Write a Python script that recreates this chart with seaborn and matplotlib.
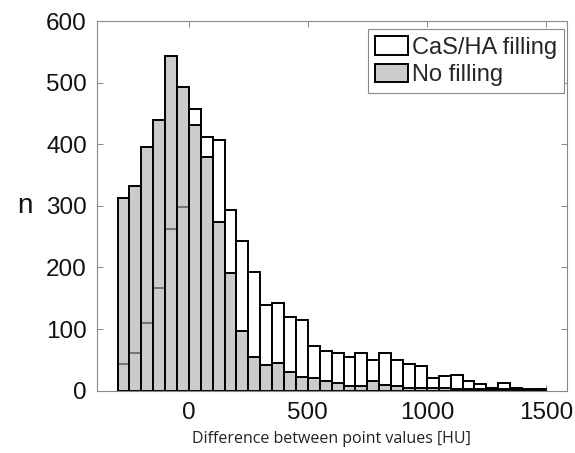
import numpy as np
import pandas as pd
import matplotlib
matplotlib.use("Agg")
import matplotlib.pyplot as plt
import seaborn as sns
from matplotlib.patches import Patch

# ---- data ----
bin_edges = list(range(-300, 1501, 50))
cas_ha_counts = [44, 61, 110, 167, 262, 298, 458, 412, 407, 294, 243, 192,
                 139, 142, 120, 115, 73, 65, 61, 54, 62, 50, 62, 50,
                 43, 40, 21, 24, 25, 15, 11, 4, 12, 5, 3, 2]
no_fill_counts = [312, 333, 396, 439, 544, 493, 432, 380, 274, 191, 97, 55,
                  42, 45, 30, 22, 20, 16, 12, 8, 8, 16, 9, 8,
                  5, 5, 4, 5, 3, 3, 2, 2, 2, 1, 1, 0]
series_labels = ["CaS/HA filling", "No filling"]
x_ticks = [0, 500, 1000, 1500]
y_ticks = [0, 100, 200, 300, 400, 500, 600]
x_label = "Difference between point values [HU]"
y_label = "n"

centers = [(a + b) / 2 for a, b in zip(bin_edges[:-1], bin_edges[1:])]
df = pd.DataFrame({"center": centers, "cas": cas_ha_counts, "nofill": no_fill_counts})

sns.set_style("ticks")
plt.rcParams["font.family"] = ["Liberation Sans", "DejaVu Sans"]

fig = plt.figure(figsize=(5.75, 4.53), dpi=100)
ax = fig.add_axes([0.168, 0.1375, 0.8176, 0.8161])

white_face = (1, 1, 1, 1)
gray_face = (0.69, 0.69, 0.69, 0.65)
edge_lw = 1.4

sns.histplot(data=df, x="center", weights="cas", bins=bin_edges, ax=ax,
             stat="count", element="bars")
n_first = len(ax.patches)
for p in ax.patches[:n_first]:
    p.set_alpha(None)
    p.set_facecolor(white_face)
    p.set_edgecolor("black")
    p.set_linewidth(edge_lw)

sns.histplot(data=df, x="center", weights="nofill", bins=bin_edges, ax=ax,
             stat="count", element="bars")
for p in ax.patches[n_first:]:
    p.set_alpha(None)
    p.set_facecolor(gray_face)
    p.set_edgecolor("black")
    p.set_linewidth(edge_lw)

ax.set_xlim(-388, 1588)
ax.set_ylim(0, 600)
ax.set_xticks(x_ticks)
ax.set_yticks(y_ticks)
ax.tick_params(axis="both", direction="in", length=4, width=0.6, color="#777777",
               labelsize=17.5, top=True, right=True, labelcolor="#111111")
ax.tick_params(axis="x", pad=8)
ax.tick_params(axis="y", pad=7)
for s in ax.spines.values():
    s.set_visible(True)
    s.set_color("#888888")
    s.set_linewidth(0.8)

ax.set_xlabel(x_label, fontsize=11.5, family=["Open Sans", "DejaVu Sans"],
              labelpad=5, color="#222222")
ax.set_ylabel(y_label, fontsize=20, rotation=0, ha="center", va="center",
              color="#111111")
ax.yaxis.set_label_coords(-0.152, 0.50)

handles = [Patch(facecolor=white_face, edgecolor="black", linewidth=edge_lw),
           Patch(facecolor=gray_face, edgecolor="black", linewidth=edge_lw)]
leg = ax.legend(handles, series_labels, loc="upper right",
                bbox_to_anchor=(0.994, 0.978), borderaxespad=0,
                fontsize=17, frameon=True, fancybox=False, framealpha=1,
                edgecolor="#888888", handlelength=1.4, handleheight=0.85,
                handletextpad=0.15, labelspacing=0.2, borderpad=0.3)
leg.get_frame().set_linewidth(0.8)

fig.savefig("out.png", dpi=100)
